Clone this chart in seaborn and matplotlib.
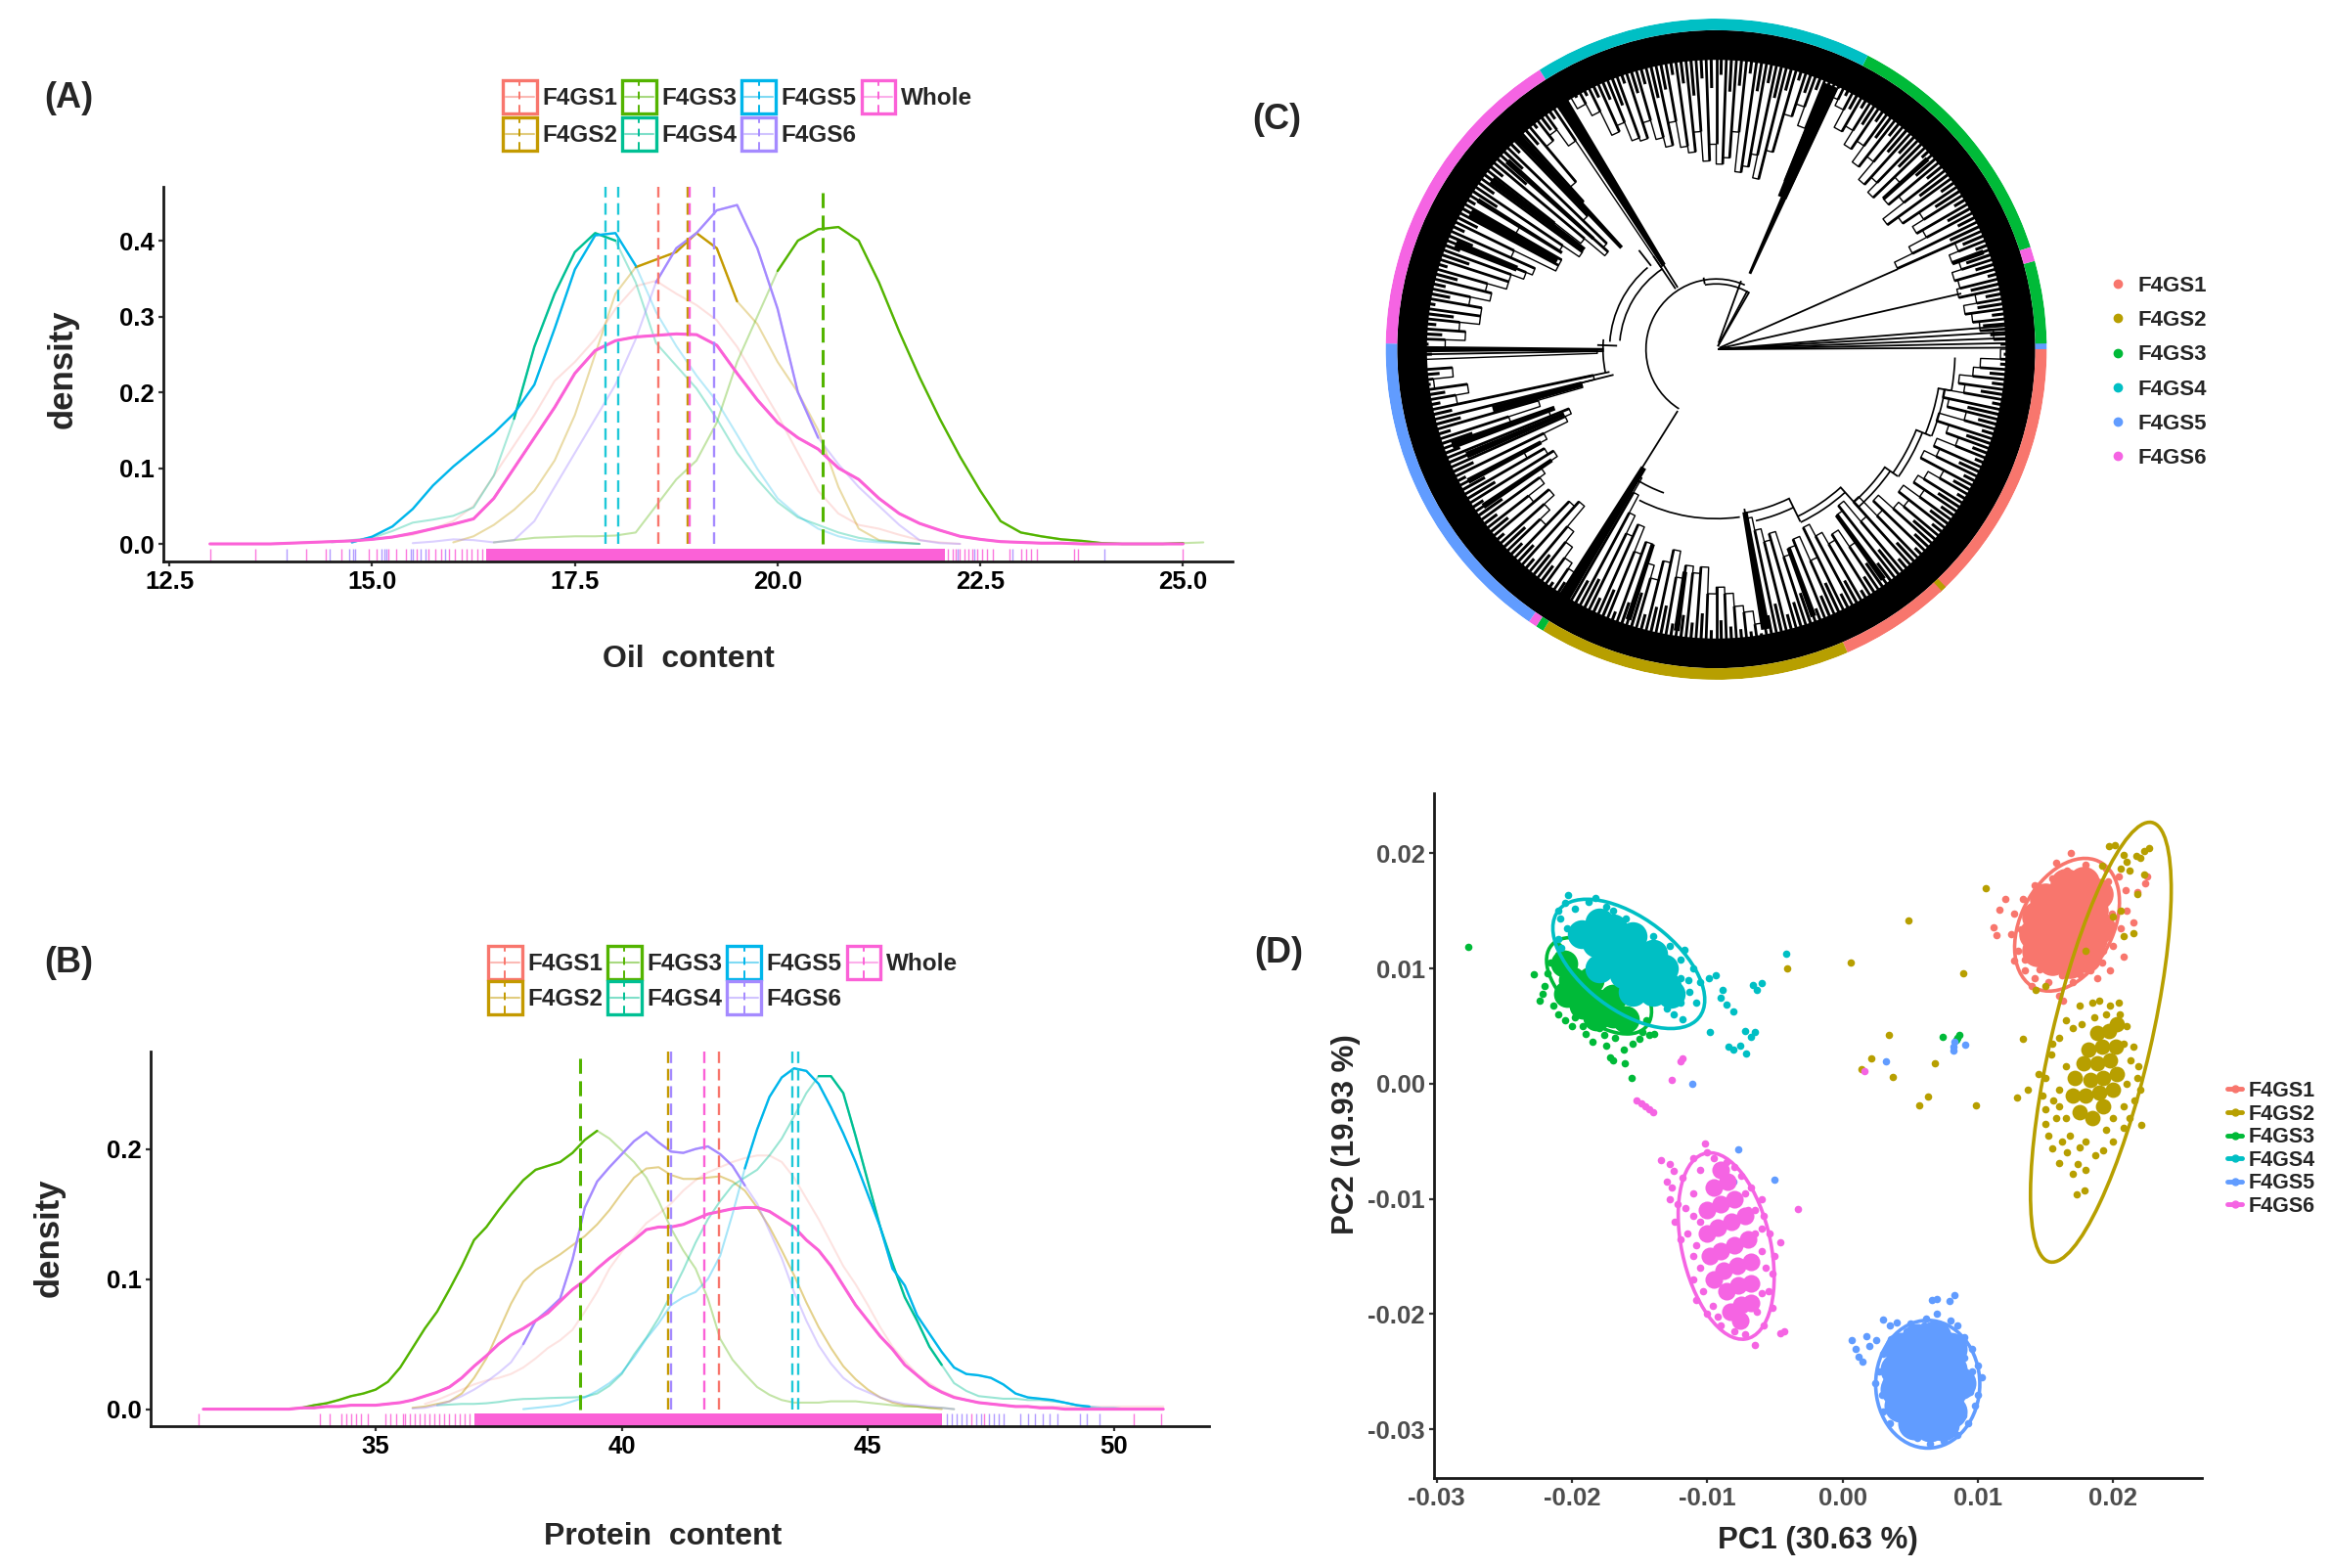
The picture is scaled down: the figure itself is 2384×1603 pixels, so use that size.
import numpy as np
import matplotlib
matplotlib.use("Agg")
import matplotlib.pyplot as plt
import seaborn as sns
from matplotlib.lines import Line2D
from matplotlib.patches import Rectangle, Ellipse
from matplotlib.legend_handler import HandlerBase
from matplotlib.transforms import Affine2D

W, H = 2384, 1603

# ---------- data -------------------------------------------------
groups7 = ["F4GS1", "F4GS2", "F4GS3", "F4GS4", "F4GS5", "F4GS6", "Whole"]
colors7 = ["#F8766D", "#C49A00", "#53B400", "#00C094", "#00B6EB", "#A58AFF", "#FB61D7"]
groups6 = ["F4GS1", "F4GS2", "F4GS3", "F4GS4", "F4GS5", "F4GS6"]
colors6 = ["#F8766D", "#B79F00", "#00BA38", "#00BFC4", "#619CFF", "#F564E3"]

# (A) oil density, x starts at given value, step .25
oil_f4gs1 = (14.5, [.003,.004,.006,.009,.012,.02,.03,.05,.09,.13,.17,.215,.24,.27,.31,.34,.347,.33,.315,.295,.26,.215,.17,.12,.07,.04,.025,.02,.012,.005,.002,0])
oil_f4gs2 = (16.0, [.002,.01,.025,.045,.07,.11,.17,.25,.33,.365,.375,.385,.41,.39,.32,.29,.24,.2,.15,.075,.02,.005,.002,0])
oil_f4gs3 = (16.5, [.002,.005,.008,.009,.01,.01,.011,.015,.05,.085,.11,.16,.24,.3,.36,.4,.415,.418,.40,.345,.28,.22,.165,.115,.07,.03,.015,.01,.006,.004,.001,0,0,0,.001,.002])
oil_f4gs4 = (14.5, [.002,.005,.008,.017,.028,.032,.037,.048,.09,.165,.26,.33,.385,.41,.40,.345,.265,.235,.205,.165,.12,.085,.055,.035,.025,.015,.008,.004,.002,0])
oil_f4gs5 = (14.75,[.002,.0095,.023,.046,.077,.102,.124,.146,.172,.21,.284,.362,.407,.41,.367,.306,.261,.222,.188,.144,.099,.06,.037,.02,.01,.004,.002,.001,0])
oil_f4gs6 = (15.5, [.001,.003,.006,.005,.002,.005,.03,.075,.12,.165,.21,.27,.345,.39,.41,.44,.447,.39,.31,.2,.14,.105,.075,.05,.025,.005,.001,0])
oil_whole = (13.0, [0,0,0,0,.001,.002,.003,.004,.006,.009,.014,.02,.026,.033,.06,.1,.14,.18,.225,.255,.268,.273,.275,.277,.276,.262,.225,.19,.16,.14,.125,.1,.085,.06,.04,.027,.018,.01,.006,.003,.002,.001,.001,0,0,0,0,0,0])
oil_strong = [[], [(18.2,19.6)], [(19.8,25)], [(16.6,18.1)], [(14.7,18.3)], [(18.3,20.6)], [(13,25)]]
oil_means = [18.53, 18.89, 20.55, 18.04, 17.88, 19.22, 18.92]

# (B) protein density, step .25
pro_f4gs1 = (36.0, [.004,.007,.011,.015,.019,.022,.024,.027,.032,.039,.047,.053,.061,.075,.09,.108,.121,.132,.143,.15,.158,.168,.176,.182,.186,.19,.193,.195,.195,.19,.178,.162,.146,.128,.11,.096,.08,.063,.048,.037,.027,.02,.014,.01,.007,.005,.004,.003,.002,.002,.002,.002,.002,.002,.002,.002,.002,.002,.002,.002,.002])
pro_f4gs2 = (35.75,[.001,.002,.004,.006,.012,.024,.039,.06,.081,.098,.107,.113,.119,.126,.133,.142,.153,.166,.178,.185,.186,.18,.177,.177,.178,.179,.175,.168,.155,.14,.122,.103,.082,.063,.047,.033,.023,.015,.009,.005,.003,.002,.001,0])
pro_f4gs3 = (33.25,[.0005,.001,.003,.0045,.007,.01,.012,.015,.021,.032,.047,.062,.075,.092,.11,.13,.14,.153,.165,.176,.184,.187,.19,.197,.207,.214,.208,.199,.19,.178,.16,.139,.122,.108,.085,.054,.038,.027,.017,.011,.007,.005,.005,.005,.006,.006,.006,.005,.004,.003,.002,.002,.001,.001,0])
pro_f4gs4 = (36.25,[.003,.0035,.004,.004,.0045,.0055,.007,.0078,.008,.0085,.0088,.009,.0095,.012,.018,.027,.042,.055,.07,.088,.107,.128,.146,.16,.172,.178,.184,.195,.208,.225,.243,.256,.256,.243,.21,.175,.14,.112,.086,.068,.048,.034,.02,.014,.01,.009,.008,.008,.007,.007,.006,.005,.003,.001,0])
pro_f4gs5 = (38.0, [0,.001,.002,.003,.006,.009,.014,.02,.028,.04,.054,.066,.08,.086,.09,.1,.118,.15,.185,.215,.24,.255,.262,.26,.25,.232,.212,.19,.165,.14,.108,.095,.072,.058,.044,.032,.027,.026,.024,.019,.012,.009,.008,.007,.005,.003,.002,.001,.001,0])
pro_f4gs6 = (35.75,[.0005,.001,.003,.006,.01,.015,.021,.028,.036,.05,.068,.076,.085,.115,.155,.175,.186,.196,.206,.213,.205,.198,.197,.2,.202,.196,.187,.172,.158,.137,.116,.09,.068,.049,.035,.024,.017,.013,.009,.006,.004,.003,.002,.001,0])
pro_whole = (31.5, [0,0,0,0,0,0,0,0,.001,.001,.002,.002,.003,.003,.003,.004,.005,.007,.01,.013,.017,.024,.033,.041,.05,.057,.062,.068,.074,.083,.092,.099,.108,.116,.123,.13,.138,.14,.14,.142,.146,.15,.152,.154,.155,.155,.152,.146,.14,.13,.122,.11,.095,.08,.068,.056,.046,.034,.026,.018,.013,.009,.007,.005,.004,.003,.002,.002,.001,.001,0,0,0,0,0,0,0,0,0])
pro_strong = [[], [], [(33.3,39.6)], [(43.8,46.5)], [(42.5,49.5)], [(38,42.5)], [(31.5,51)]]
pro_means = [41.97, 40.95, 39.15, 43.47, 43.58, 41.01, 41.67]

# rugs
oil_rug_whole = [13,13.56,14.19,14.43,14.62,14.96,15.05,15.2,15.3,15.42,15.55,15.7,15.78,15.85,15.95,16.02,16.1,16.16,16.22,16.3,16.36,22.1,22.16,22.2,22.25,22.3,22.35,22.4,22.46,22.52,22.58,22.66,22.86,23.0,23.06,23.12,23.2,23.65,23.7,25]
oil_rug_f4gs6 = [13.95,14.47,14.72,14.76,14.79,15.12,15.15,15.18,15.48,15.5,15.6,15.66,15.9,22.22,22.43,22.9,24.03]
oil_band = (16.4, 22.06)
pro_rug_whole = [31.41,33.86,34.06,34.3,34.4,34.5,34.6,34.7,34.85,35.2,35.3,35.42,35.55,35.6,35.7,35.8,35.9,36,36.1,36.2,36.3,36.4,36.5,36.6,36.7,36.8,36.9,47.1,47.35,50.4,50.96]
pro_rug_f4gs6 = [46.6,46.7,46.8,46.9,47.0,47.2,47.3,47.45,47.55,47.65,47.75,48.1,48.25,48.4,48.55,48.7,48.85,49.3,49.45,49.7]
pro_band = (37.0, 46.5)

# (C) tree: outer ring (start angle, end angle, group index)
ring_start = [0, 1, 18, -47.5, -46, -66.6, -121.6, -123, -124.5, 179, 122.3, 62.7, 15.5]
ring_end   = [1.5, 15.5, 62.7, 0, -47.5, -47, -66.6, -121.6, -123, 235.5, 179, 122.3, 18]
ring_group = [4, 2, 2, 0, 1, 0, 1, 2, 5, 4, 5, 3, 5]
# inner end of tips in % of tree radius, every 2 degrees
tip_inner = [90,84,80,78,76,80,75,76,75,78,76,79,60,66,72,70,74,68,64,72,68,75,66,70,67,74,70,76,73,78,76,82,84,55,72,78,74,62,53,60,56,54,66,58,56,62,57,66,60,62,70,63,66,72,67,68,74,72,80,84,88,30,76,82,80,66,60,56,46,44,52,62,50,56,70,54,54,68,60,62,66,66,72,70,76,72,72,78,76,82,36,88,80,86,76,80,38,42,56,66,54,48,50,58,66,60,58,64,66,72,66,70,74,64,62,70,74,78,80,45,50,56,62,58,66,62,68,72,66,62,70,66,68,66,74,72,74,78,80,84,52,56,60,58,66,64,62,70,60,64,68,66,72,62,60,68,62,70,66,72,74,70,76,72,74,78,70,74,72,78,74,70,78,72,70,76,74,78,80,86]
# shorter tips, at odd degrees
tip_short = [86,83,81,84,80,83,79,85,82,80,84,81,78,82,80,84,79,83,77,82,80,85,78,81,79,83,80,84,81,85,83,86,87,80,84,82,85,81,78,82,79,84,80,78,83,79,82,77,81,84,80,78,83,81,85,79,82,84,86,87,88,86,85,83,86,82,79,84,80,76,83,78,82,79,85,78,81,84,80,83,79,85,81,84,82,86,80,85,83,87,86,88,84,87,83,85,82,80,84,78,83,79,81,85,80,78,84,79,83,81,85,79,83,81,84,80,82,86,84,85,80,78,83,79,85,81,77,83,80,79,84,81,83,80,85,82,84,85,86,87,82,79,83,80,78,84,81,78,83,80,85,82,79,81,78,84,80,85,82,79,84,81,83,80,85,82,84,81,85,83,80,84,82,78,85,81,84,83,86,87]
# clade arcs (start, end, radius)
arc_start = [66,124,130,238,243,280,283,296,312,325,338,350,60,175,296,312,325,338]
arc_end   = [238,175,176,250,278,296,296,312,325,338,350,358,100,192,312,325,338,350]
arc_r     = [.21,.29,.32,.46,.51,.50,.53,.56,.62,.65,.68,.72,.195,.34,.58,.64,.67,.70]
# straight branches (angle, from r, to r)
ray_t  = [.3,1.2,2.2,3.4,4.6,12.8,23.8,178,181,192,194,122,124,128,238,280,60,62,70,100,296,312,325,338,350]
ray_r0 = [.005,.005,.005,.01,.01,.01,.01,.30,.34,.33,.32,.22,.22,.32,.22,.49,.01,.01,.02,.20,.50,.56,.62,.65,.68]
ray_r1 = [.92,.92,.91,.90,.88,.76,.60,.36,.89,.42,.44,.36,.34,.38,.44,.52,.20,.20,.22,.22,.58,.64,.67,.70,.72]
# thick clades (angle, width, from r, to r)
clade_t  = [66,122,238.5,280,180,66.5,133,138,143,148,151,158,195,200,203,208,214,252,262,290,306,20,42]
clade_w  = [2.0,2.6,2.4,1.8,1.2,3.2,1.6,1.2,1.6,1.0,2.0,1.6,1.6,1.6,1.4,1.2,1.2,1.2,1.2,1.2,1.2,1.0,1.0]
clade_r0 = [.25,.30,.42,.50,.34,.50,.42,.50,.50,.55,.55,.65,.42,.52,.50,.60,.60,.62,.68,.64,.62,.76,.68]
clade_r1 = [.87,.90,.90,.86,.91,.87,.88,.85,.85,.85,.85,.85,.70,.85,.82,.85,.85,.86,.86,.86,.86,.86,.86]

# (D) PCA points, in thousandths
g1_pts = [(16.9,20),(11.4,12.9),(11.6,15.1),(11.2,13.6),(22.5,18),(21.8,16.6),(12.7,10.7),(16,7.6),(13.5,9.8),(14.2,9.2),(15.2,8.8),(17,8.8),(18.3,9.8),(19.2,10.5),(20,12),(20.6,13.5),(21,15),(20.9,16.8),(20.4,18),(19.5,18.7),(18,19),(16.6,18.5),(15.5,17.8),(14.2,17.2),(13.3,16),(12.7,14.8),(12.5,13),(13,11.5),(15.8,19.2),(12,16),(21.5,14),(14,8.5),(19.8,9.8),(18.8,9.2),(17.5,18.3),(14.8,16.8),(13.8,15),(22.4,17.4),(20.8,11),(16.3,7.2),(13.5,10.8),(14.6,9.9),(16.2,9.4),(17.6,9.4),(19.3,11.5),(19.9,14.8),(19.6,17.6),(13.2,13.4),(13.6,12.2)]
g1_core = [(14.4,11.5),(15.5,10.8),(16.8,10.5),(18,11),(14.2,13),(15.5,12.5),(17,12.3),(18.4,12.6),(19,13.6),(14.4,14.5),(15.8,14.2),(17.3,14),(18.5,15),(15,16),(16.4,15.8),(17.8,16.2),(18.8,16.5),(16.5,17.3),(17.8,17.5)]
g2_pts = [(10.6,17),(4.9,14.2),(.6,10.5),(-4.1,10),(8.9,9.6),(3.4,4.2),(2.1,2.2),(1.4,1.3),(3.7,.6),(6.8,1.8),(6.3,-1.1),(5.7,-1.9),(9.9,-1.9),(15,.5),(15.4,2.5),(16,4),(16.5,-3),(15,-3.5),(15.2,-4.5),(16.2,-5),(16.8,-4.5),(17.5,-5.5),(18,-5),(17.4,-7),(18,-7.5),(15.5,-5.6),(16,-6.9),(17.9,-9.3),(17.3,-9.6),(19.5,-4),(20,-3),(20.8,-2),(21,0),(21.8,.5),(21.3,2),(20.8,3.5),(21,5),(20.5,6),(19.8,6.8),(20.4,7),(18.6,5.8),(17.7,5.2),(17,4.8),(16.5,1.5),(16,-.5),(15.6,-1.5),(14.5,.8),(13.3,3.9),(13.7,-.5),(12.9,-1.2),(14.3,8.1),(15,8.5),(22.1,-3.6),(22.3,20.2),(21.7,19.8),(22.7,20.5),(21,19.3),(20.6,18.7),(21.2,18.5),(19.7,20.6),(20.1,20.7),(19.2,18.9),(22.3,18.2),(21.5,13.1),(20.8,12.8),(20.6,15),(21.8,16.5),(20,14.5),(18,11.5),(22,19.6),(20.8,19.9),(16.5,5.5),(17.5,6.8),(18.5,7),(19,7.2),(15.5,3.5),(14.8,-1),(15,-2.2),(15.8,-3),(16,-2),(20.8,-3.8),(20,-5),(19.3,-5.8),(18.7,-6.2),(16.6,-6),(17,-7.8),(19.5,6),(21.5,3.2),(21.9,1.5),(22,-.5),(21.6,-1.5),(21.2,-3)]
g2_core = [(17.5,-2.5),(18.5,-3),(19.3,-2),(17,-1),(18,-1),(19,-.8),(20,-.5),(17.2,.5),(18.3,.3),(19.3,.5),(20.3,.8),(17.8,1.8),(18.8,1.8),(19.8,2),(18.2,3),(19.2,3.2),(20.2,3.2),(18.8,4.4),(19.7,4.6),(20.3,5.2)]
g3_pts = [(-27.7,11.9),(-15.6,.5),(-22.8,9.5),(7.4,4.1),(8.5,4),(8.6,4.2),(8.4,3.8),(-16.1,1.8),(-17.2,2.3),(-17,2),(-17.5,3.3),(-16.2,3),(-15.5,3.5),(-18.5,3.6),(-19,4.3),(-14.3,4.2),(-13.9,4.3),(-14.8,4.5),(-14.5,5.5),(-20,5),(-21,6),(-22.2,7.8),(-22,8.5),(-21.8,9.6),(-21.6,10.5),(-21,11.2),(-21,12),(-20.5,10),(-19.8,5.8),(-20.8,7.3),(-18,4.8),(-16.8,4),(-15.8,4.6),(-22.4,7.2),(-21.4,6.8),(-20.5,5.5),(-19.2,5),(-17.6,4.2),(-15,3.9)]
g3_core = [(-20.6,10.4),(-20,9),(-19,8),(-18,7),(-17,6),(-16,5.6),(-19.2,6.8),(-18.2,5.8),(-20.4,7.8),(-17,7.5),(-18.6,9)]
g4_pts = [(-20.3,16.4),(-18.3,16.1),(-18.8,15.8),(-19.8,15.2),(-21,15),(-20.9,14.3),(-20.5,15.7),(-17.5,15.4),(-17,15),(-16,14.3),(-15,13.5),(-14,12.8),(-12.8,12),(-12,10.8),(-11.7,11.6),(-11,10),(-10.5,8.8),(-11.3,8),(-12,7),(-13,6.5),(-12.5,6),(-10.8,7),(-11.8,5.6),(-9.9,9.2),(-8.9,8.1),(-9.4,9.4),(-9,7.5),(-8.1,6.3),(-8.6,6.9),(-6.5,4.5),(-6,8.7),(-6.3,8.1),(-6.6,8.6),(-8.4,3.2),(-8.1,3),(-7.6,3.3),(-7.1,2.6),(-6.8,4.1),(-7.2,4.6),(-9.8,4.5),(-4.2,11.3),(-20.4,13.5),(-21,12.6),(-20.8,11.8),(-12,9.2),(-11.4,9)]
g4_core = [(-19.3,13),(-18,14),(-17,13.5),(-18.2,12.2),(-16.5,12.2),(-15.5,12.8),(-17,10.8),(-15.5,11),(-14,11.3),(-18,10),(-16.2,9.5),(-14.8,9.5),(-13.2,10),(-15.5,8),(-14,8),(-13,8.5),(-12.7,7.8)]
g5_pts = [(8.3,-18.4),(7.9,-18.9),(7,-18.7),(6.6,-18.8),(7,-20),(6.2,-20.4),(.7,-22.3),(1.8,-21.9),(1.2,-23.7),(1,-23),(2,-22.8),(1.5,-24.1),(2.5,-22.3),(3,-20.5),(3.5,-21),(4,-20.7),(5,-20.8),(8,-20.6),(8.5,-21),(9,-22),(9.6,-23),(10,-24.5),(10.3,-25.5),(10,-27),(9.8,-28),(9.3,-29.5),(8.5,-30.5),(7.5,-31),(6.5,-31.3),(5.5,-30.8),(4.5,-30),(3.5,-29.5),(3,-28.5),(2.9,-27),(2.4,-26),(2.7,-25),(3,-23.5),(-7.7,-5.7),(-5,-8.3),(-11.1,0),(3.2,1.9),(8.2,3.2),(8.3,3.6),(9.1,3.4),(8.2,2.9),(-8.1,-8.5),(3.6,-22.2),(4.7,-21.5),(6,-21),(7.4,-21),(9,-23.8),(9.6,-25),(9.4,-26.8),(8.9,-28.8),(3.5,-27.8),(3.2,-25.8)]
g5_core = [(4.3,-23),(5.5,-22.3),(6.8,-22),(8,-23),(4,-24.8),(5.3,-24.5),(6.6,-24.3),(8,-24.8),(8.6,-26),(4,-26.5),(5.3,-26.3),(6.7,-26.2),(7.9,-26.8),(4.3,-28),(5.5,-28),(6.8,-28),(8,-28.5),(5.3,-29.5),(6.5,-29.7),(7.4,-29.6)]
g6_pts = [(-10.2,-5.2),(-10,-6),(-9.5,-6.5),(-13.4,-6.6),(-12.8,-7),(-12.5,-7.6),(-13,-8.5),(-12.6,-9),(-12.8,-10),(-12.2,-10.5),(-12.4,-12),(-12,-13.5),(-11.5,-13),(-11,-15),(-11,-17),(-10.8,-18.8),(-10,-20),(-9,-21),(-8,-21.5),(-7.2,-21.8),(-5.8,-21),(-5.2,-19.5),(-5.5,-18),(-5.2,-16.5),(-5,-15),(-4.6,-13.8),(-5.4,-13),(-5.8,-11.5),(-6,-10),(-6.8,-9),(-7.5,-8),(-8.6,-6.8),(-10.5,-7.5),(-11,-9.5),(-10.5,-12),(-6.5,-13),(-7,-11),(-3.3,-10.9),(-4.6,-21.7),(-4.3,-21.5),(-6.5,-22.7),(-12,1.9),(-11.8,2.2),(-12.6,.3),(-15.2,-1.5),(-14.9,-1.7),(-14.6,-2),(-14.3,-2.2),(-14,-2.5),(1.6,1.1),(-11,-6.5),(-11.8,-8.2),(-11.6,-10.8),(-11,-11.5),(-10.8,-14),(-10.5,-16),(-10.3,-18),(-9.6,-19.3),(-9.2,-20.2),(-6.3,-19.8),(-6,-18.2),(-5.7,-16),(-6,-14.5),(-6,-12.6),(-6.5,-11),(-7.2,-9.5),(-8,-7.2)]
g6_core = [(-9,-7.5),(-8.5,-8.5),(-9.5,-9),(-8,-10),(-9,-10.5),(-10,-11),(-7.2,-11.5),(-8.2,-12),(-9.2,-12.5),(-10,-13),(-7,-13.5),(-8,-14),(-9,-14.5),(-9.8,-15),(-6.8,-15.5),(-7.8,-15.8),(-8.8,-16.2),(-9.5,-17),(-6.8,-17.3),(-7.7,-17.5),(-8.6,-18),(-7.5,-19.2),(-8.3,-19.8),(-6.8,-19),(-7.6,-20.6)]
# ellipses: centre x, centre y, width, height, angle (thousandths, degrees)
ell_x = [16.6, 19.1, -18.0, -15.8, 6.3, -8.6]
ell_y = [13.8, 3.6, 8.5, 10.4, -26.1, -14.1]
ell_w = [12.0, 38.9, 10.0, 14.0, 7.7, 16.4]
ell_h = [7.0, 7.36, 5.5, 7.5, 11.1, 6.6]
ell_a = [70, 78.9, -49, -45, 0, -80]

# ---------- setup ------------------------------------------------
sns.set_style("ticks")
plt.rcParams["font.family"] = ["Liberation Sans", "DejaVu Sans"]
plt.rcParams["font.weight"] = "bold"
plt.rcParams["axes.labelweight"] = "bold"

fig = plt.figure(figsize=(W / 100, H / 100), dpi=100, facecolor="white")
px = Affine2D().scale(1 / W, -1 / H).translate(0, 1) + fig.transFigure


def axes_px(x0, y0, x1, y1, **kw):
    return fig.add_axes([x0 / W, 1 - y1 / H, (x1 - x0) / W, (y1 - y0) / H], **kw)


class KeyHandler(HandlerBase):
    def create_artists(self, legend, orig, xd, yd, w, h, fs, trans):
        c = orig.get_color()
        x0, y0 = -xd, -yd
        r = Rectangle((x0, y0), w, h, fc="white", ec=c, lw=2.4, transform=trans)
        a = Line2D([x0 + 2, x0 + w - 2], [y0 + h / 2] * 2, color=c, alpha=.5, lw=1.5, transform=trans)
        b = Line2D([x0 + w / 2] * 2, [y0 + 1, y0 + h - 1], color=c, lw=1.4, ls=(0, (4, 3)), transform=trans)
        return [r, a, b]


def style_axis(ax, size=18.5, color="black", lw=2.0):
    sns.despine(ax=ax)
    for s in ("left", "bottom"):
        ax.spines[s].set_linewidth(lw)
        ax.spines[s].set_color("#1a1a1a")
    ax.tick_params(length=3.5, width=1.6, labelsize=size, labelcolor=color, pad=3, color="#333333")
    for t in ax.get_xticklabels() + ax.get_yticklabels():
        t.set_fontweight("bold")


def density_panel(ax, series, strong, means, rug_w, rug_6, band, xl, yl, xt, yt, xfmt, step, base_alpha):
    for (start, vals), col, st, ba in zip(series, colors7, strong, base_alpha):
        x = start + step * np.arange(len(vals))
        y = np.array(vals)
        sns.lineplot(x=x, y=y, color=col, alpha=ba, lw=1.5, ax=ax, estimator=None, sort=False,
                     solid_joinstyle="round")
        for lo, hi in st:
            m = (x >= lo) & (x <= hi)
            wid = 2.2 if col == colors7[6] else 1.7
            sns.lineplot(x=x[m], y=y[m], color=col, lw=wid, ax=ax, estimator=None, sort=False,
                         solid_joinstyle="round")
    for m, col in zip(means, colors7):
        lw = 2.2 if col == "#53B400" else 1.7
        c = "#1FC8D8" if col in ("#00C094", "#00B6EB") else col
        ax.vlines(m, 0, yl[1], color=c, lw=lw, ls=(0, (5, 2.5)))
    ax.axvspan(band[0], band[1], ymin=0, ymax=.033, color=colors7[6], lw=0)
    sns.rugplot(x=rug_w, height=.033, color=colors7[6], lw=2, alpha=.85, ax=ax)
    sns.rugplot(x=rug_6, height=.033, color=colors7[5], lw=2, alpha=.85, ax=ax)
    ax.set_xlim(xl)
    ax.set_ylim(yl)
    ax.set_xticks(xt)
    ax.set_xticklabels([xfmt.format(v) for v in xt])
    ax.set_yticks(yt)
    ax.set_yticklabels([f"{v:.1f}" for v in yt])
    style_axis(ax)


def key_legend(ax, x, y, rowgap):
    hs = [Line2D([], [], color=c, label=g) for g, c in zip(groups7, colors7)]
    ax.legend(handles=hs, ncol=4, loc="upper left", bbox_to_anchor=(x, y), bbox_transform=px,
              frameon=False, borderpad=0, borderaxespad=0, handlelength=1.42,
              handleheight=1.8, handletextpad=.24, columnspacing=.2, labelspacing=rowgap,
              handler_map={Line2D: KeyHandler()}, prop={"weight": "bold", "size": 17.5})


def set_labels(ax, xl, xp, yl, yp, size=23, ysize=25):
    ax.set_xlabel(xl, fontsize=size, fontweight="bold", va="center", ha="center")
    ax.set_ylabel(yl, fontsize=ysize, fontweight="bold", va="center", ha="center")
    ax.xaxis.set_label_coords(xp[0], xp[1], transform=px)
    ax.yaxis.set_label_coords(yp[0], yp[1], transform=px)


# ---------- (A) --------------------------------------------------
axA = axes_px(166.6, 191, 1260, 574)
density_panel(axA, [oil_f4gs1, oil_f4gs2, oil_f4gs3, oil_f4gs4, oil_f4gs5, oil_f4gs6, oil_whole],
              oil_strong, oil_means, oil_rug_whole, oil_rug_f4gs6, oil_band,
              (12.42, 25.61), (-.0232, .471), [12.5, 15, 17.5, 20, 22.5, 25], [0, .1, .2, .3, .4],
              "{:.1f}", .25, [.22, .35, .35, .35, .28, .4, 1])
set_labels(axA, "Oil  content", (704, 674), "density", (64, 377))
key_legend(axA, 514, 82, .14)

# ---------- (B) --------------------------------------------------
axB = axes_px(154, 1074.5, 1236, 1458)
density_panel(axB, [pro_f4gs1, pro_f4gs2, pro_f4gs3, pro_f4gs4, pro_f4gs5, pro_f4gs6, pro_whole],
              pro_strong, pro_means, pro_rug_whole, pro_rug_f4gs6, pro_band,
              (30.43, 51.93), (-.0131, .2753), [35, 40, 45, 50], [0, .1, .2],
              "{:.0f}", .25, [.2, .45, .35, .4, .35, .4, 1])
set_labels(axB, "Protein  content", (678, 1571), "density", (50, 1265))
key_legend(axB, 499, 967, .06)

# ---------- (C) --------------------------------------------------
axC = axes_px(1416.5, 19, 2092.5, 695, projection="polar")
rad = np.deg2rad
tip_t = rad(2.0 * np.arange(len(tip_inner)))
tip_r = np.array(tip_inner) / 100
axC.vlines(tip_t, tip_r, .9, color="black", lw=2.0)
axC.vlines(tip_t + rad(1), np.array(tip_short) / 100, .9, color="black", lw=2.2)
axC.plot(np.r_[tip_t, tip_t[0] + 2 * np.pi], np.r_[tip_r, tip_r[0]], color="black", lw=1.0,
         drawstyle="steps-post")
axC.bar(np.pi, .09, width=2 * np.pi, bottom=.875, color="black", lw=0)
for s, e, g in zip(ring_start, ring_end, ring_group):
    axC.bar(rad((s + e) / 2), .035, width=rad(abs(e - s)), bottom=.965, color=colors6[g], lw=0)
for s, e, r in zip(arc_start, arc_end, arc_r):
    axC.bar(rad((s + e) / 2), .005, width=rad(e - s), bottom=r, color="black", lw=0)
axC.vlines(rad(np.array(ray_t)), ray_r0, ray_r1, color="black", lw=1.3)
for t, w, r0, r1 in zip(clade_t, clade_w, clade_r0, clade_r1):
    axC.bar(rad(t), r1 - r0, width=rad(w), bottom=r0, color="black", lw=0)
axC.set_rlim(0, 1)
axC.set_axis_off()
hC = [Line2D([], [], ls="none", marker="o", ms=6, color=c, label=g) for g, c in zip(groups6, colors6)]
axC.legend(handles=hC, loc="upper left", bbox_to_anchor=(2157, 282), bbox_transform=px, frameon=False,
           borderpad=0, borderaxespad=0, handlelength=.7, handletextpad=.6, labelspacing=.64,
           prop={"weight": "bold", "size": 16})

# ---------- (D) --------------------------------------------------
axD = axes_px(1466, 810.7, 2251, 1510.7)
all_pts = [g1_pts, g2_pts, g3_pts, g4_pts, g5_pts, g6_pts]
all_core = [g1_core, g2_core, g3_core, g4_core, g5_core, g6_core]
core_size = [550, 130, 400, 450, 600, 170]
for pts, core, col, cs, ex, ey, ew, eh, ea in zip(all_pts, all_core, colors6, core_size, ell_x, ell_y, ell_w, ell_h, ell_a):
    p = np.array(pts) / 1000
    c = np.array(core) / 1000
    sns.scatterplot(x=c[:, 0], y=c[:, 1], s=cs, color=col, lw=0, ax=axD)
    sns.scatterplot(x=p[:, 0], y=p[:, 1], s=30, color=col, lw=0, ax=axD)
    axD.add_patch(Ellipse((ex / 1000, ey / 1000), ew / 1000, eh / 1000, angle=ea, fc="none", ec=col, lw=2.6))
axD.set_xlim(-.0302, .02657)
axD.set_ylim(-.03422, .02524)
axD.set_xticks([-.03, -.02, -.01, 0, .01, .02])
axD.set_xticklabels(["-0.03", "-0.02", "-0.01", "0.00", "0.01", "0.02"])
axD.set_yticks([-.03, -.02, -.01, 0, .01, .02])
axD.set_yticklabels(["-0.03", "-0.02", "-0.01", "0.00", "0.01", "0.02"])
style_axis(axD, size=18.5, color="#4d4d4d")
set_labels(axD, "PC1 (30.63 %)", (1858, 1575), "PC2 (19.93 %)", (1376, 1160), size=22.5, ysize=22.5)
hD = [Line2D([], [], lw=3.5, marker="o", ms=5, color=c, label=g) for g, c in zip(groups6, colors6)]
axD.legend(handles=hD, loc="upper left", bbox_to_anchor=(2277, 1105), bbox_transform=px, frameon=False,
           borderpad=0, borderaxespad=0, handlelength=.7, handletextpad=.3, labelspacing=.12,
           prop={"weight": "bold", "size": 15.5})

# ---------- panel letters ----------------------------------------
for s, x, y in [("(A)", 70, 100), ("(B)", 70, 984), ("(C)", 1305, 122), ("(D)", 1307, 974)]:
    fig.text(x, y, s, transform=px, fontsize=26, fontweight="bold", ha="center", va="center")

fig.savefig("out.png", dpi=100, facecolor="white")
